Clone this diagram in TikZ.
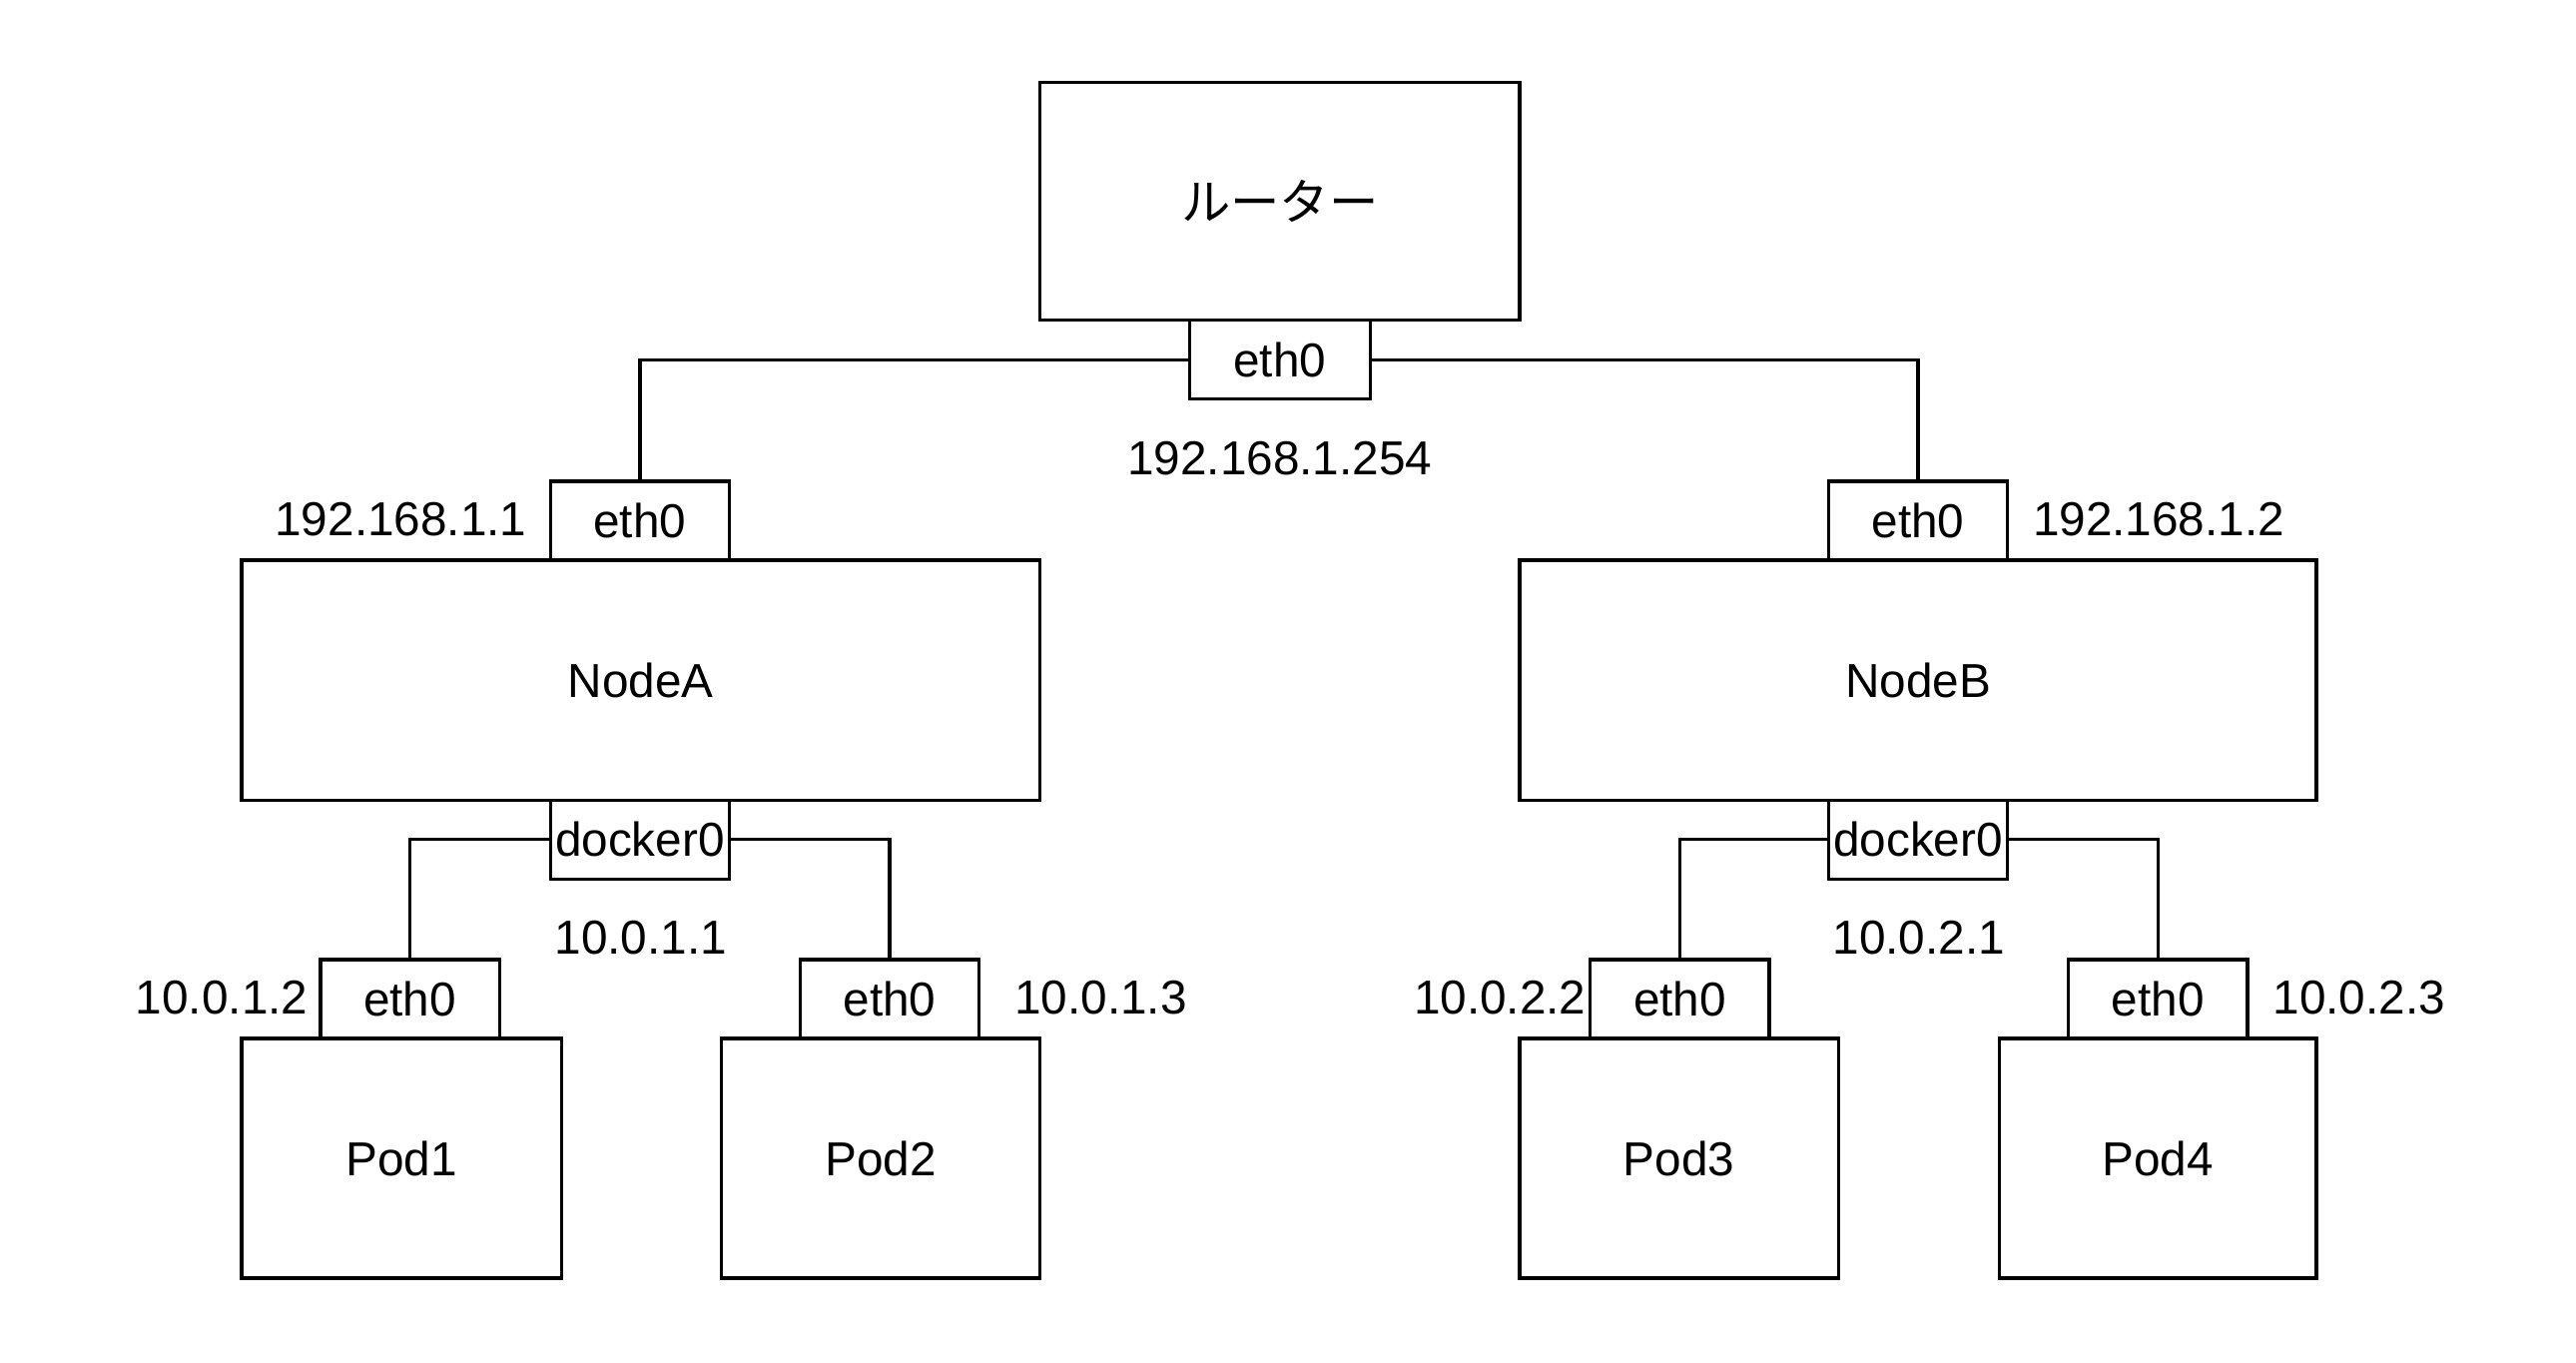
\documentclass[tikz,border=0pt]{standalone}
\usepackage{fontspec}
\setmainfont{Liberation Sans}
\newfontfamily\jpfont{Noto Sans CJK JP}
\begin{document}
\begin{tikzpicture}[x=1pt,y=-1pt,
  box/.style={draw, line width=2pt, inner sep=0pt, fill=white, font=\fontsize{29}{33}\selectfont},
  port/.style={box, minimum width=109pt, minimum height=48pt},
  bignode/.style={box, minimum width=486pt, minimum height=146pt},
  podbox/.style={box, minimum width=194pt, minimum height=146pt},
  lbl/.style={inner sep=0pt, font=\fontsize{29}{33}\selectfont},
  wire/.style={line width=2pt}]
\useasboundingbox[fill=white] (0,0) rectangle (1568,829);
% Router
\node[box, minimum width=292pt, minimum height=145pt] (router) at (779,122.5) {\jpfont\fontsize{30}{34}\selectfont ルーター};
\node[port, minimum width=110pt] (reth) at (779,219) {eth0};
% NodeA
\node[bignode] (nodeA) at (390,414) {NodeA};
\node[port] (aeth) at (389.5,317) {eth0};
\node[port] (adock) at (389.5,511) {docker0};
\node[podbox, minimum width=195pt] (pod1) at (244.5,705) {Pod1};
\node[port] (p1eth) at (249.5,608) {eth0};
\node[podbox] (pod2) at (536,705) {Pod2};
\node[port] (p2eth) at (541.5,608) {eth0};
% NodeB
\node[bignode, minimum width=485pt] (nodeB) at (1167.5,414) {NodeB};
\node[port] (beth) at (1167.5,317) {eth0};
\node[port] (bdock) at (1167.5,511) {docker0};
\node[podbox] (pod3) at (1022,705) {Pod3};
\node[port] (p3eth) at (1022.5,608) {eth0};
\node[podbox, minimum width=193pt] (pod4) at (1313.5,705) {Pod4};
\node[port] (p4eth) at (1313.5,608) {eth0};
% wires
\draw[wire] (reth.west) -| (aeth.north);
\draw[wire] (reth.east) -| (beth.north);
\draw[wire] (adock.west) -| (p1eth.north);
\draw[wire] (adock.east) -| (p2eth.north);
\draw[wire] (bdock.west) -| (p3eth.north);
\draw[wire] (bdock.east) -| (p4eth.north);
% labels
\node[lbl] (l1) at (779,279) {192.168.1.254};
\node[lbl] (l2) at (244,316) {192.168.1.1};
\node[lbl] (l3) at (1314,316) {192.168.1.2};
\node[lbl] (l4) at (390,571) {10.0.1.1};
\node[lbl] (l5) at (135,607) {10.0.1.2};
\node[lbl] (l6) at (670,607) {10.0.1.3};
\node[lbl] (l7) at (1168,571) {10.0.2.1};
\node[lbl] (l8) at (913,607) {10.0.2.2};
\node[lbl] (l9) at (1436,607) {10.0.2.3};
\end{tikzpicture}
\end{document}
